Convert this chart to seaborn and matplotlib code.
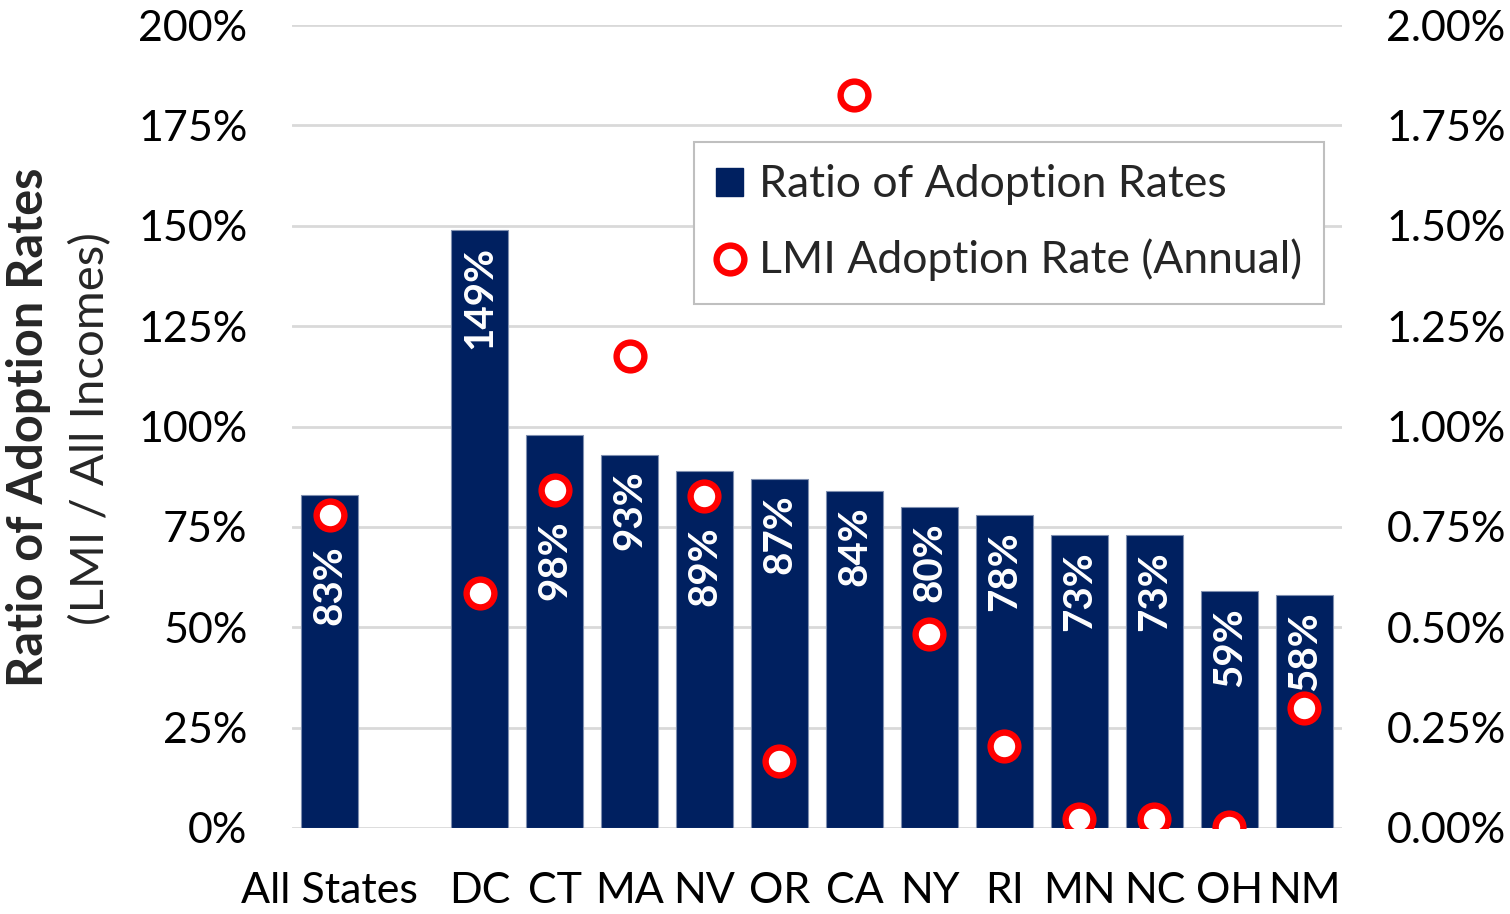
import matplotlib
matplotlib.use("Agg")
import matplotlib.pyplot as plt
import numpy as np
import pandas as pd
import seaborn as sns
from matplotlib.ticker import FuncFormatter
from matplotlib.lines import Line2D
from matplotlib.patches import Patch

# data
states = ['All States', 'DC', 'CT', 'MA', 'NV', 'OR', 'CA', 'NY', 'RI', 'MN', 'NC', 'OH', 'NM']
ratio = [83, 149, 98, 93, 89, 87, 84, 80, 78, 73, 73, 59, 58]          # % (left axis)
lmi_rate = [0.78, 0.585, 0.842, 1.176, 0.827, 0.167, 1.826, 0.483, 0.204, 0.022, 0.022, 0.002, 0.299]  # % (right axis)

# blank slot between "All States" and the states
order = ['All States', ' '] + states[1:]

navy = '#002060'
red = '#FF0000'

sns.set_theme(style='white')
plt.rcParams['font.family'] = ['Lato', 'DejaVu Sans']

df = pd.DataFrame({'state': states, 'ratio': ratio, 'lmi': lmi_rate})

fig = plt.figure(figsize=(15.1, 9.14), dpi=100)
ax = fig.add_axes([0.1934, 0.0941, 0.6953, 0.8785])

sns.barplot(data=df, x='state', y='ratio', order=order, color=navy, width=0.76,
            edgecolor='#7F8FB0', linewidth=0.8, saturation=1, ax=ax, zorder=2)
ax.set_ylim(0, 200)
ax.set_xlim(-0.5, len(order) - 0.5)
ax.set_yticks(np.arange(0, 201, 25))
ax.yaxis.set_major_formatter(FuncFormatter(lambda v, p: f'{v:.0f}%'))
ax.grid(axis='y', color='#D9D9D9', linewidth=2, zorder=0)
ax.set_axisbelow(True)
ax.set_xlabel('')
ax.set_ylabel('')
ax.tick_params(axis='y', length=0, pad=32, labelsize=31, colors='black')
ax.tick_params(axis='x', length=0, pad=32, labelsize=31, colors='black')
for s in ax.spines.values():
    s.set_visible(False)

pos = [order.index(s) for s in states]

# bar labels, inside end; pushed below the circle where they would collide
for x, r, l in zip(pos, ratio, lmi_rate):
    yc = l * 100
    start = r - 4
    if r - 26 < yc < r + 4:
        start = yc - 7.5
    ax.text(x, start, f'{r}%', rotation=90, ha='center', va='top', color='white',
            fontsize=29, fontweight='bold', zorder=3)

ax2 = ax.twinx()
ax2.plot(pos, lmi_rate, linestyle='none', marker='o', markersize=20,
         markerfacecolor='white', markeredgecolor=red, markeredgewidth=4.6, zorder=4)
ax2.set_ylim(0, 2)
ax2.set_xlim(-0.5, len(order) - 0.5)
ax2.set_yticks(np.arange(0, 2.01, 0.25))
ax2.yaxis.set_major_formatter(FuncFormatter(lambda v, p: f'{v:.2f}%'))
ax2.tick_params(axis='y', length=0, pad=32, labelsize=31, colors='black')
ax2.grid(False)
for s in ax2.spines.values():
    s.set_visible(False)

handles = [Patch(facecolor=navy, edgecolor=navy, label='Ratio of Adoption Rates'),
           Line2D([], [], linestyle='none', marker='o', markersize=20, markerfacecolor='white',
                  markeredgecolor=red, markeredgewidth=4.6, label='LMI Adoption Rate (Annual)')]
leg = ax2.legend(handles=handles, loc='upper left', bbox_to_anchor=(0.383, 0.854),
                 fontsize=32, frameon=True, fancybox=False, framealpha=1,
                 edgecolor='#BFBFBF', handlelength=0.6, handleheight=0.6,
                 handletextpad=0.35, labelspacing=0.75, borderpad=0.5, borderaxespad=0)
leg.get_frame().set_linewidth(1.5)

fig.text(0.019, 0.533, 'Ratio of Adoption Rates', rotation=90, ha='center', va='center',
         fontsize=35, fontweight='bold')
fig.text(0.060, 0.531, '(LMI / All Incomes)', rotation=90, ha='center', va='center',
         fontsize=34)

fig.savefig('out.png', dpi=100)
